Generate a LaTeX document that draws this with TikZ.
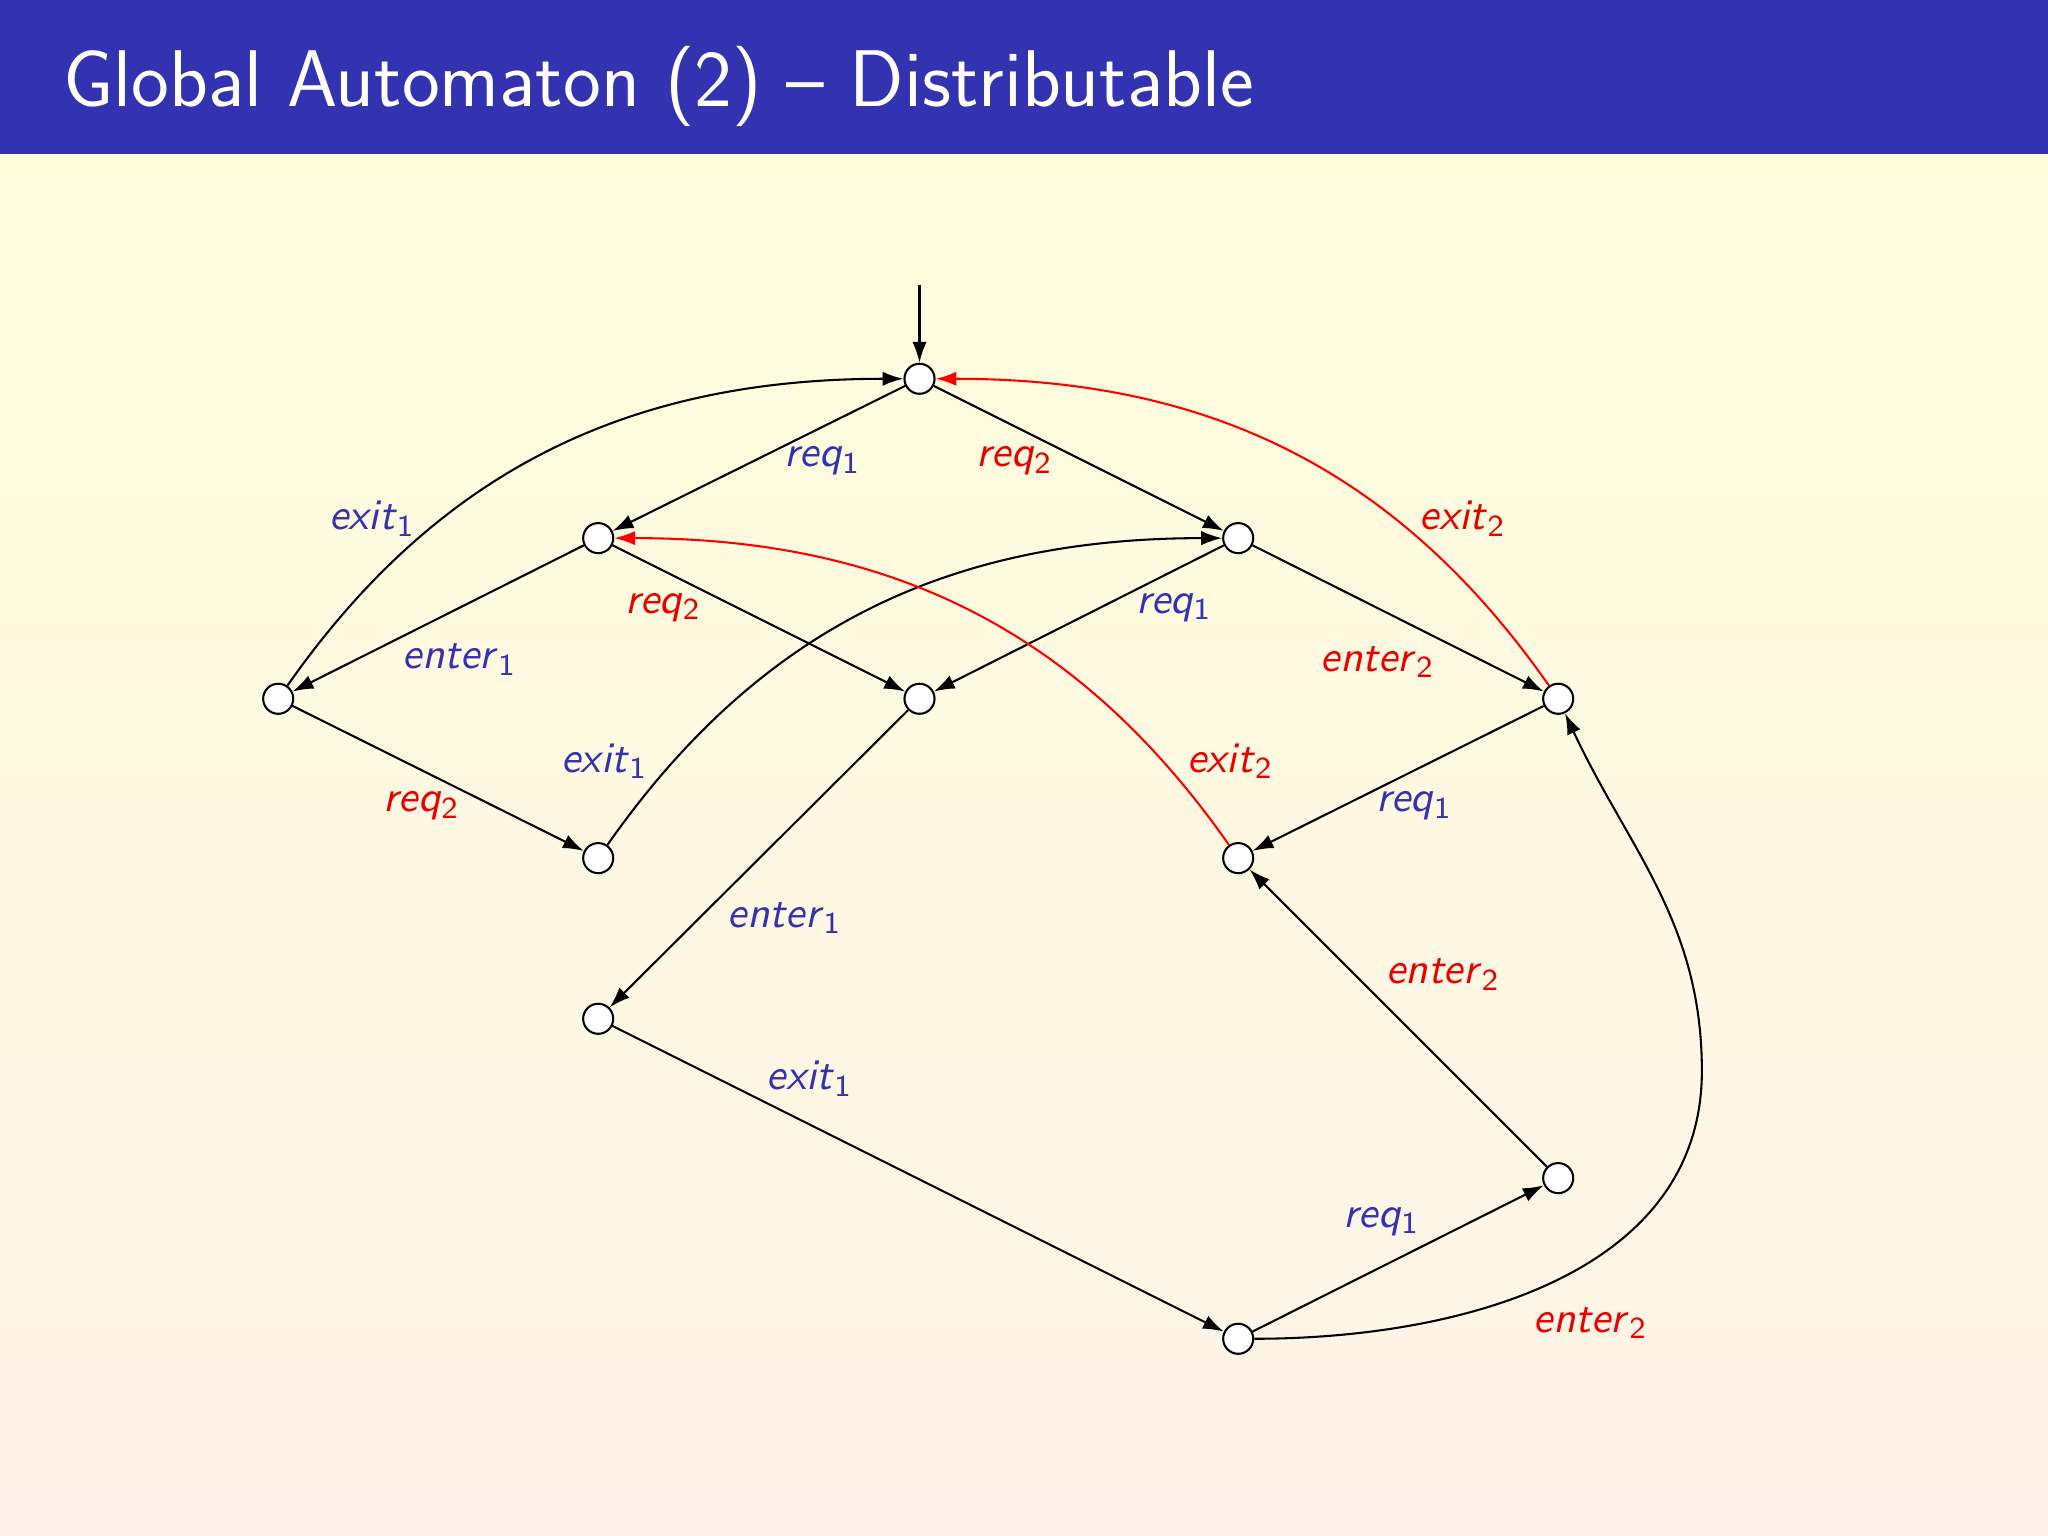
\documentclass[tikz,border=0pt]{standalone}
\usetikzlibrary{arrows.meta}
\definecolor{bbar}{RGB}{51,51,178}
\definecolor{lblue}{RGB}{51,51,178}
\definecolor{lred}{RGB}{235,0,0}
\definecolor{bgtop}{RGB}{255,253,220}
\definecolor{bgbot}{RGB}{253,243,232}
\newcommand{\lab}[2]{\textit{#1}\textsubscript{#2}}
\begin{document}
\begin{tikzpicture}[x=0.01cm,y=-0.01cm,
  st/.style={circle,draw,fill=white,inner sep=0pt,minimum size=0.23cm,line width=0.45pt},
  tr/.style={-{Latex[length=0.16cm,width=0.11cm]},line width=0.45pt},
  rtr/.style={tr,red},
  bl/.style={text=lblue,font=\sffamily\fontsize{9.5}{11}\selectfont},
  rl/.style={text=lred,font=\sffamily\fontsize{9.5}{11}\selectfont}]
\useasboundingbox (0,0) rectangle (1568,1176);
\shade[top color=bgtop,bottom color=bgbot] (0,118) rectangle (1568,1176);
\fill[bbar] (0,0) rectangle (1568,118);
\node[anchor=west,text=white,font=\sffamily\fontsize{17.5}{20}\selectfont] (title) at (36,66) {Global Automaton (2) -- Distributable};
\node[st] (top) at (704,290) {};
\node[st] (L1) at (458,412) {};
\node[st] (R1) at (948,412) {};
\node[st] (LL) at (213,535) {};
\node[st] (M) at (704,535) {};
\node[st] (RR) at (1193,535) {};
\node[st] (L2) at (458,657) {};
\node[st] (R2) at (948,657) {};
\node[st] (L3) at (458,780) {};
\node[st] (R4) at (1193,902) {};
\node[st] (B) at (948,1025) {};
\coordinate (init) at (704,218);
\draw[tr] (init) -- (top);
\draw[tr] (top) -- (L1);
\draw[tr] (top) -- (R1);
\draw[tr] (L1) -- (LL);
\draw[tr] (L1) -- (M);
\draw[tr] (R1) -- (M);
\draw[tr] (R1) -- (RR);
\draw[tr] (LL) to[out=55,in=180] (top);
\draw[tr] (LL) -- (L2);
\draw[tr] (L2) to[out=55,in=180] (R1);
\draw[tr] (M) -- (L3);
\draw[rtr] (RR) to[out=125,in=0] (top);
\draw[rtr] (R2) to[out=125,in=0] (L1);
\draw[tr] (RR) -- (R2);
\draw[tr] (L3) -- (B);
\draw[tr] (B) -- (R4);
\draw[tr] (R4) -- (R2);
\draw[tr] (B) to[out=0,in=-90] (1303,820) to[out=90,in=-65] (RR);
\node[bl] (a1) at (630,353) {\lab{req}{1}};
\node[rl] (a2) at (777,353) {\lab{req}{2}};
\node[bl] (a3) at (285,397) {\lab{exit}{1}};
\node[rl] (a4) at (1120,397) {\lab{exit}{2}};
\node[bl] (a5) at (352,505) {\lab{enter}{1}};
\node[rl] (a6) at (508,465) {\lab{req}{2}};
\node[bl] (a7) at (899,465) {\lab{req}{1}};
\node[rl] (a8) at (1055,507) {\lab{enter}{2}};
\node[bl] (a9) at (463,583) {\lab{exit}{1}};
\node[rl] (a10) at (942,583) {\lab{exit}{2}};
\node[rl] (a11) at (323,617) {\lab{req}{2}};
\node[bl] (a12) at (1083,617) {\lab{req}{1}};
\node[bl] (a13) at (601,703) {\lab{enter}{1}};
\node[rl] (a14) at (1105,746) {\lab{enter}{2}};
\node[bl] (a15) at (620,826) {\lab{exit}{1}};
\node[bl] (a16) at (1058,935) {\lab{req}{1}};
\node[rl] (a17) at (1218,1013) {\lab{enter}{2}};
\end{tikzpicture}
\end{document}
